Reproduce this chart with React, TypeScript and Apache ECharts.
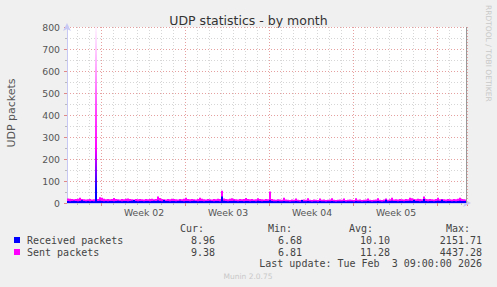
import React, { useEffect, useRef } from "react";
import * as echarts from "echarts";

// Sent packets, one sample per 4 hours (visible top clipped at 800)
const sentPackets = [
  20, 19, 18, 17, 18, 19, 24, 18, 17, 16,
  17, 18, 16, 17, 800, 18, 26, 24, 19, 17,
  18, 17, 18, 23, 18, 17, 16, 18, 17, 19,
  21, 18, 17, 16, 18, 17, 18, 17, 16, 18,
  17, 18, 19, 17, 18, 29, 23, 18, 17, 16,
  18, 17, 19, 18, 17, 16, 18, 17, 19, 24,
  18, 17, 18, 17, 16, 18, 24, 19, 17, 16,
  18, 17, 16, 18, 17, 19, 18, 56, 20, 18,
  17, 19, 22, 18, 17, 16, 18, 17, 18, 23,
  18, 17, 18, 16, 17, 22, 18, 17, 16, 18,
  17, 52, 18, 16, 15, 17, 16, 15, 24, 16,
  15, 14, 16, 15, 21, 15, 14, 15, 16, 15,
  22, 15, 14, 16, 15, 14, 21, 15, 16, 14,
  15, 16, 22, 15, 14, 15, 16, 15, 21, 14,
  15, 16, 15, 14, 22, 15, 16, 14, 15, 16,
  21, 15, 14, 15, 16, 22, 15, 14, 16, 21,
  15, 17, 24, 16, 17, 16, 18, 17, 16, 18,
  17, 24, 22, 18, 17, 19, 18, 17, 29, 18,
  17, 18, 17, 16, 18, 24, 17, 18, 17, 16,
  18, 17, 16, 18, 17, 19, 24, 18, 17, 16,
];

// Received packets
const receivedPackets = [
  9, 8, 9, 10, 9, 8, 9, 13, 9, 8,
  9, 8, 9, 8, 240, 9, 10, 9, 8, 9,
  8, 9, 9, 8, 9, 10, 9, 8, 9, 9,
  8, 9, 10, 14, 9, 8, 9, 9, 8, 9,
  9, 8, 9, 10, 9, 11, 9, 8, 14, 9,
  9, 8, 9, 9, 8, 9, 10, 9, 8, 9,
  9, 8, 9, 10, 9, 8, 9, 9, 8, 9,
  9, 10, 9, 8, 9, 9, 8, 30, 10, 9,
  8, 9, 9, 10, 9, 8, 9, 9, 8, 9,
  9, 8, 9, 9, 8, 10, 9, 8, 9, 9,
  9, 12, 9, 8, 8, 9, 8, 8, 9, 8,
  8, 7, 8, 8, 9, 8, 7, 14, 8, 8,
  9, 8, 7, 8, 8, 7, 9, 8, 8, 7,
  8, 8, 9, 8, 7, 8, 8, 8, 9, 7,
  8, 8, 8, 7, 9, 8, 8, 7, 8, 8,
  9, 8, 7, 8, 8, 9, 8, 7, 8, 15,
  8, 9, 10, 9, 9, 8, 9, 9, 8, 9,
  9, 10, 9, 14, 9, 9, 8, 9, 18, 9,
  8, 9, 9, 8, 9, 10, 9, 15, 9, 8,
  9, 9, 8, 9, 8, 9, 10, 9, 9, 9,
];

const weekLabels = ["Week 02", "Week 03", "Week 04", "Week 05"];
const weekLabelIndex = [38, 80, 122, 164];
const yMax = 800;
const yMajorStep = 100;
const yMinorStep = 50;

const legendRows = [
  { name: "Received packets", color: "#0000ff", cur: "8.96", min: "6.68", avg: "10.10", max: "2151.71" },
  { name: "Sent packets", color: "#ff00ff", cur: "9.38", min: "6.81", avg: "11.28", max: "4437.28" },
];
const lastUpdate = "Last update: Tue Feb  3 09:00:00 2026";
const titleText = "UDP statistics - by month";
const yName = "UDP packets";
const watermark = "RRDTOOL / TOBI OETIKER";
const footer = "Munin 2.0.75";

const categories = sentPackets.map((_, i) => String(i));
const yMinorBins = Array.from({ length: yMax / yMinorStep }, (_, i) => String(i * yMinorStep));

export default function App() {
  const ref = useRef<HTMLDivElement>(null);
  useEffect(() => {
    if (!ref.current) return;
    const chart = echarts.init(ref.current, undefined, { renderer: "svg" });
    const sans = "DejaVu Sans";
    const mono = "DejaVu Sans Mono";
    const minorFn = (i: number) => i % 6 === 5 && i % 42 !== 17;
    const majorFn = (i: number) => i % 42 === 17;
    const labelFn = (i: number) => weekLabelIndex.indexOf(i) >= 0;
    const yMinorFn = (i: number) => i % 2 === 1;

    const sentMax = Math.max(...sentPackets);
    const recvMax = Math.max(...receivedPackets);
    const sentData = sentPackets.map((v) =>
      v === sentMax
        ? {
            value: v,
            itemStyle: {
              color: new echarts.graphic.LinearGradient(0, 0, 0, 1, [
                { offset: 0, color: "rgba(255,0,255,0.04)" },
                { offset: 0.2, color: "rgba(255,0,255,0.3)" },
                { offset: 0.45, color: "rgba(255,0,255,0.7)" },
                { offset: 0.7, color: "rgba(255,0,255,1)" },
                { offset: 1, color: "rgba(255,0,255,1)" },
              ]),
            },
          }
        : v
    );
    const recvData = receivedPackets.map((v) =>
      v === recvMax
        ? {
            value: v,
            itemStyle: {
              color: new echarts.graphic.LinearGradient(0, 0, 0, 1, [
                { offset: 0, color: "rgba(0,0,255,0.05)" },
                { offset: 0.4, color: "rgba(0,0,255,0.5)" },
                { offset: 0.75, color: "rgba(0,0,255,0.95)" },
                { offset: 1, color: "rgba(0,0,255,1)" },
              ]),
            },
          }
        : v
    );

    const legendGraphics: any[] = [];
    const hdrY = 228;
    [
      ["Cur:", 204],
      ["Min:", 292],
      ["Avg:", 373],
      ["Max:", 470],
    ].forEach(([t, x]) =>
      legendGraphics.push({
        type: "text",
        x: x as number,
        y: hdrY,
        style: { text: t as string, font: `10px '${mono}'`, fill: "#444", textAlign: "right", textVerticalAlign: "middle" },
      })
    );
    legendRows.forEach((r, k) => {
      const y = 240 + k * 12;
      legendGraphics.push({
        type: "rect",
        shape: { x: 14, y: y - 3, width: 6, height: 6 },
        style: { fill: r.color },
      });
      legendGraphics.push({
        type: "text",
        x: 27,
        y,
        style: { text: r.name, font: `10px '${mono}'`, fill: "#444", textAlign: "left", textVerticalAlign: "middle" },
      });
      [
        [r.cur, 215],
        [r.min, 302],
        [r.avg, 390],
        [r.max, 482],
      ].forEach(([t, x]) =>
        legendGraphics.push({
          type: "text",
          x: x as number,
          y,
          style: { text: t as string, font: `10px '${mono}'`, fill: "#444", textAlign: "right", textVerticalAlign: "middle" },
        })
      );
    });

    const grayGrid = { color: "#d6d6d6", type: [1, 2] };
    const redGrid = { color: "#e6a0a0", type: [1, 2] };

    const option: any = {
      animation: false,
      backgroundColor: "#f0f0f0",
      grid: {
        left: 67,
        right: 30,
        top: 27,
        bottom: 84,
        show: true,
        backgroundColor: "#ffffff",
        borderWidth: 0,
        z: -1,
      },
      xAxis: [
        {
          type: "category",
          data: categories,
          boundaryGap: true,
          axisLine: {
            show: true,
            lineStyle: { color: "#c8c8f4", width: 1 },
            symbol: ["none", "arrow"],
            symbolSize: [6, 8],
            symbolOffset: [0, 4],
          },
          axisTick: { show: true, interval: minorFn, length: 2, lineStyle: { color: "#bbbbbb" } },
          axisLabel: { show: false },
          splitLine: { show: true, interval: minorFn, lineStyle: grayGrid },
        },
        {
          type: "category",
          data: categories,
          boundaryGap: true,
          position: "bottom",
          axisLine: { show: false },
          axisTick: { show: true, interval: majorFn, length: 3, lineStyle: { color: "#e08888" } },
          axisLabel: {
            show: true,
            interval: labelFn,
            formatter: (_v: string, i: number) => {
              const k = weekLabelIndex.indexOf(i);
              return k >= 0 ? weekLabels[k] : "";
            },
            fontFamily: sans,
            fontSize: 9.3,
            color: "#555",
            margin: 5,
          },
          splitLine: { show: true, interval: majorFn, lineStyle: redGrid },
        },
      ],
      yAxis: [
        {
          type: "category",
          data: yMinorBins,
          boundaryGap: true,
          axisLine: { show: false },
          axisTick: { show: true, interval: yMinorFn, length: 2, lineStyle: { color: "#bbbbbb" } },
          axisLabel: { show: false },
          splitLine: { show: true, interval: yMinorFn, lineStyle: grayGrid },
        },
        {
          type: "value",
          min: 0,
          max: yMax,
          interval: yMajorStep,
          position: "left",
          axisLine: {
            show: true,
            lineStyle: { color: "#c8c8f4", width: 1 },
            symbol: ["none", "arrow"],
            symbolSize: [6, 8],
            symbolOffset: [0, 4],
          },
          axisTick: { show: true, length: 3, lineStyle: { color: "#e08888" } },
          splitLine: { show: true, lineStyle: redGrid },
          axisLabel: { fontFamily: sans, fontSize: 9.3, color: "#555", margin: 7 },
        },
      ],
      series: [
        {
          name: "Sent packets",
          type: "bar",
          xAxisIndex: 0,
          yAxisIndex: 1,
          data: sentData,
          barGap: "-100%",
          barCategoryGap: "0%",
          itemStyle: { color: "#ff00ff" },
          z: 4,
        },
        {
          name: "Received packets",
          type: "bar",
          xAxisIndex: 0,
          yAxisIndex: 1,
          data: recvData,
          barGap: "-100%",
          barCategoryGap: "0%",
          itemStyle: { color: "#0000ff" },
          z: 5,
        },
      ],
      graphic: [
        {
          type: "text",
          x: 248.5,
          y: 20,
          style: { text: titleText, font: `12.5px '${sans}'`, fill: "#333", textAlign: "center", textVerticalAlign: "middle" },
        },
        {
          type: "text",
          x: 11,
          y: 113,
          rotation: Math.PI / 2,
          style: { text: yName, font: `11px '${sans}'`, fill: "#555", textAlign: "center", textVerticalAlign: "middle" },
        },
        {
          type: "text",
          x: 488.5,
          y: 5,
          rotation: -Math.PI / 2,
          style: { text: watermark, font: `7.5px '${sans}'`, fill: "#c8c8c8", textAlign: "left", textVerticalAlign: "middle" },
        },
        {
          type: "line",
          shape: { x1: 466.5, y1: 27, x2: 466.5, y2: 203 },
          style: { stroke: "#999999", lineWidth: 1 },
          z: 10,
        },
        ...legendGraphics,
        {
          type: "text",
          x: 482,
          y: 263,
          style: { text: lastUpdate, font: `10px '${mono}'`, fill: "#444", textAlign: "right", textVerticalAlign: "middle" },
        },
        {
          type: "text",
          x: 248,
          y: 276,
          style: { text: footer, font: `7.5px '${sans}'`, fill: "#c8c8c8", textAlign: "center", textVerticalAlign: "middle" },
        },
      ],
    };
    chart.setOption(option);
    return () => chart.dispose();
  }, []);
  return <div ref={ref} style={{ width: 497, height: 287, position: "fixed", left: 0, top: 0 }} />;
}
